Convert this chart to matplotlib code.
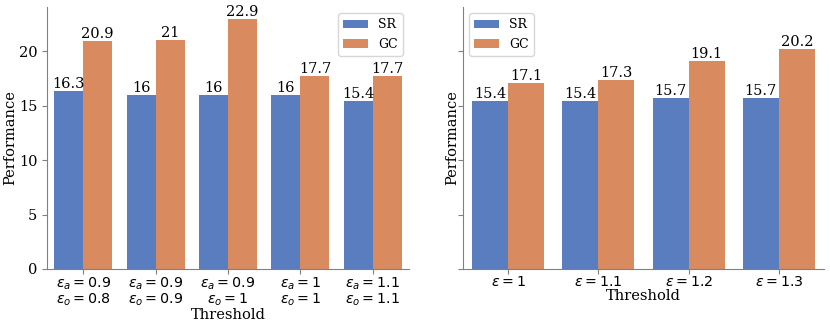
import matplotlib
matplotlib.use("Agg")
import matplotlib.pyplot as plt
import seaborn as sns
import pandas as pd

# ---- data ----
methods = ["SR", "GC"]

left_labels = [
    "$\\epsilon_a = 0.9$\n$\\epsilon_o = 0.8$",
    "$\\epsilon_a = 0.9$\n$\\epsilon_o = 0.9$",
    "$\\epsilon_a = 0.9$\n$\\epsilon_o = 1$",
    "$\\epsilon_a = 1$\n$\\epsilon_o = 1$",
    "$\\epsilon_a = 1.1$\n$\\epsilon_o = 1.1$",
]
left_sr = [16.3, 16, 16, 16, 15.4]
left_gc = [20.9, 21, 22.9, 17.7, 17.7]

right_labels = ["$\\epsilon = 1$", "$\\epsilon = 1.1$", "$\\epsilon = 1.2$", "$\\epsilon = 1.3$"]
right_sr = [15.4, 15.4, 15.7, 15.7]
right_gc = [17.1, 17.3, 19.1, 20.2]


def make_df(labels, sr, gc):
    return pd.DataFrame({
        "Threshold": labels * 2,
        "Performance": sr + gc,
        "Method": ["SR"] * len(labels) + ["GC"] * len(labels),
    })


plt.rcParams["font.family"] = "serif"
plt.rcParams["mathtext.fontset"] = "dejavusans"

fig = plt.figure(figsize=(8.3, 3.29), dpi=100)
ax1 = fig.add_axes([47 / 830, 60 / 329, 362 / 830, 262 / 329])
ax2 = fig.add_axes([463 / 830, 60 / 329, 361 / 830, 262 / 329], sharey=ax1)

panels = [
    (ax1, make_df(left_labels, left_sr, left_gc), "upper right"),
    (ax2, make_df(right_labels, right_sr, right_gc), "upper left"),
]

for ax, df, loc in panels:
    sns.barplot(data=df, x="Threshold", y="Performance", hue="Method",
                hue_order=methods, palette="muted", ax=ax)
    for c in ax.containers:
        ax.bar_label(c, fmt="%g", fontsize=10.5, padding=0)
    ax.set_xlabel("Threshold", fontsize=10.5, labelpad=0)
    ax.set_ylabel("Performance", fontsize=10.5, labelpad=1)
    ax.tick_params(axis="x", labelsize=10.3, length=3.5, pad=1, color="gray")
    ax.tick_params(axis="y", labelsize=10.5, length=3.5, color="gray")
    for lbl in ax.get_xticklabels():
        lbl.set_linespacing(1.0)
    for s in ["top", "right"]:
        ax.spines[s].set_visible(False)
    for s in ["left", "bottom"]:
        ax.spines[s].set_color("gray")
    ax.legend(loc=loc, fontsize=9, handlelength=2.0)

ax2.tick_params(axis="y", labelleft=False)
ax2.set_ylabel("Performance", fontsize=10.5, labelpad=-1)
ax1.set_yticks([0, 5, 10, 15, 20])

fig.savefig("out.png", dpi=100)
